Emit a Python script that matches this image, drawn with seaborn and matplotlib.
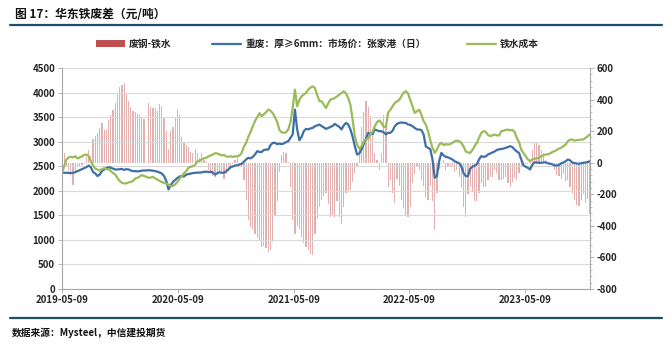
import numpy as np
import pandas as pd
import matplotlib
matplotlib.use('Agg')
import matplotlib.pyplot as plt
from matplotlib.patches import Patch
from matplotlib.lines import Line2D
from matplotlib.ticker import MultipleLocator
import seaborn as sns

sns.set_theme(style='white')
plt.rcParams['font.family'] = ['Noto Sans CJK SC', 'DejaVu Sans']
plt.rcParams['axes.unicode_minus'] = False

# Weekly observations, Thursday 2019-05-09 through 2023-11-30
start_date = '2019-05-09'
n_weeks = 239

# 重废：厚≥6mm：市场价：张家港（日）, 元/吨 (left axis)
scrap_price = [
    2366, 2366, 2366, 2366, 2360, 2366, 2380, 2400, 2420, 2440,
    2460, 2480, 2515, 2480, 2380, 2352, 2300, 2330, 2400, 2434,
    2460, 2480, 2470, 2450, 2434, 2434, 2440, 2445, 2425, 2440,
    2435, 2413, 2400, 2400, 2395, 2400, 2410, 2413, 2413, 2420,
    2413, 2410, 2400, 2390, 2370, 2352, 2300, 2200, 2027,
    2110, 2180, 2220, 2260, 2290, 2300, 2290, 2330, 2340, 2350,
    2360, 2365, 2370, 2370, 2375, 2385, 2390, 2380, 2390, 2370,
    2330, 2360, 2375, 2370, 2365, 2400, 2434, 2480, 2495, 2515,
    2520, 2535, 2550, 2590, 2640, 2671, 2660, 2690, 2740, 2806,
    2790, 2790, 2830, 2840, 2840, 2930, 2976, 2976, 2950,
    2960, 2950, 2965, 2990, 3010, 3080, 3150, 3653, 3250, 3030,
    3100, 3213, 3260, 3250, 3270, 3280, 3314, 3330, 3348, 3320,
    3290, 3260, 3280, 3300, 3320, 3362, 3330, 3300, 3250, 3330,
    3382, 3350, 3250, 3100, 2908, 2738, 2760, 2840, 2950, 3060,
    3179, 3160, 3150, 3247, 3230, 3213, 3213, 3190, 3150, 3180,
    3180, 3220, 3314, 3360, 3382, 3390, 3385, 3380, 3350, 3340,
    3314, 3280, 3250, 3247, 3235, 3150, 2900, 2874, 2850, 2637,
    2264, 2300, 2600, 2772, 2720, 2690, 2680, 2660, 2637, 2600,
    2580, 2560, 2500, 2360, 2298, 2300, 2450, 2490, 2510, 2540,
    2640, 2705, 2690, 2700, 2739, 2760, 2780, 2800, 2830, 2845,
    2850, 2860, 2874, 2890, 2908, 2890, 2840, 2800, 2772, 2637,
    2520, 2490, 2467, 2434, 2530, 2580, 2575, 2570, 2570, 2575,
    2580, 2560, 2550, 2540, 2515, 2515, 2520, 2560, 2575, 2600,
    2637, 2620, 2575, 2565, 2555, 2550, 2560, 2570, 2575, 2585, 2600,
]

# 铁水成本, 元/吨 (left axis)
hot_metal_cost = [
    2366, 2500, 2637, 2680, 2691, 2680, 2705, 2660, 2680, 2700,
    2730, 2739, 2705, 2600, 2515, 2450, 2434, 2410, 2440, 2460,
    2440, 2440, 2400, 2360, 2332, 2260, 2200, 2163, 2150, 2150,
    2170, 2180, 2200, 2250, 2264, 2290, 2320, 2300, 2285, 2264,
    2270, 2285, 2250, 2230, 2200, 2180, 2160, 2140, 2129,
    2095, 2100, 2129, 2180, 2240, 2298, 2360, 2400, 2467, 2490,
    2500, 2530, 2600, 2610, 2640, 2660, 2671, 2700, 2720, 2739,
    2765, 2760, 2740, 2720, 2730, 2700, 2690, 2705, 2690, 2700,
    2700, 2720, 2772, 2900, 2976, 3100, 3200, 3314, 3420, 3500,
    3580, 3520, 3560, 3600, 3653, 3630, 3580, 3500, 3400,
    3240, 3190, 3180, 3190, 3250, 3400, 3700, 4060, 3721, 3850,
    3924, 3960, 3992, 4060, 4100, 4127, 4093, 3950, 3830, 3822,
    3755, 3687, 3780, 3856, 3870, 3890, 3924, 3960, 3992, 4026,
    3980, 3890, 3750, 3450, 3111, 2942, 2860, 2908, 3000, 3043,
    3060, 3150, 3200, 3314, 3400, 3430, 3382, 3300, 3300, 3590,
    3650, 3720, 3789, 3820, 3850, 3924, 4000, 4026, 3980, 3850,
    3720, 3585, 3620, 3653, 3550, 3420, 3348, 3213, 3030, 2874,
    2772, 2840, 2940, 2976, 2930, 2950, 2940, 2950, 2976, 3010,
    3020, 3010, 2976, 2900, 2800, 2780, 2772, 2830, 2908, 2980,
    3080, 3179, 3213, 3200, 3140, 3111, 3130, 3145, 3130, 3125,
    3213, 3225, 3235, 3247, 3230, 3240, 3200, 3077, 2990, 2840,
    2770, 2705, 2637, 2610, 2640, 2650, 2660, 2670, 2705, 2720,
    2740, 2739, 2760, 2790, 2806, 2830, 2860, 2874, 2908, 2940,
    3010, 3040, 3043, 3020, 3030, 3035, 3043, 3043, 3077, 3111, 3150,
]

# 废钢-铁水, 元/吨 (right axis)
spread = [
    230, 60, -30, -47, -80, -142, -60, -25, -20, -15,
    -10, 38, 80, 40, 150, 170, 190, 220, 250, 205,
    210, 271, 300, 335, 380, 440, 480, 490, 505, 440,
    390, 350, 330, 320, 310, 300, 285, 280, 0, 377,
    355, 345, 345, 330, 375, 360, 290, 200, 90,
    200, 229, 290, 340, 300, 160, 130, 110, 100, 70,
    60, 90, 60, 30, 60, 20, 5, -47, -70, -85,
    -89, -78, -60, -55, -100, -70, -55, -20, -10, 17,
    28, -5, -25, -110, -237, -365, -407, -420, -450, -475,
    -490, -534, -525, -540, -566, -555, -500, -330, -240,
    -60, 50, 70, 60, 5, -152, -365, -450, -400, -420,
    -470, -510, -534, -555, -576, -587, -450, -350, -280, -237,
    -210, -195, -260, -343, -330, -343, -240, -343, -386, -280,
    -195, -185, -174, -120, -68, -20, 100, 229, 320, 390,
    356, 293, 170, 59, 15, -47, 59, 300, 229, -152,
    -110, -195, -258, -100, -150, -237, -290, -333, -343, -280,
    -130, -70, -30, -45, -110, -150, -216, -237, -150, -240,
    -428, -195, -40, -5, 17, -47, -20, -25, -25, -60,
    -47, -89, -160, -280, -343, -200, -152, -180, -240, -245,
    -195, -130, -152, -152, -110, -89, -89, -47, -68, -110,
    -110, -100, -90, -131, -152, -120, -95, -110, -68, -25,
    -12, -10, -8, 10, 80, 123, 134, 110, 80, 59,
    17, 5, -5, -15, -47, -78, -85, -100, -70, -115,
    -110, -152, -195, -237, -269, -275, -237, -200, -258, -230, -322,
]

xtick_labels = ['2019-05-09', '2020-05-09', '2021-05-09', '2022-05-09', '2023-05-09']

dates = pd.date_range(start_date, periods=n_weeks, freq='7D')
df = pd.DataFrame({'date': dates, 'scrap': scrap_price,
                   'hot_metal': hot_metal_cost, 'spread': spread})

C_BAR = '#C0504D'
C_BLUE = '#3E6FA6'
C_GREEN = '#9BBB59'
C_GRID = '#D9D9D9'
C_AXIS = '#A6A6A6'
C_TEXT = '#262626'

fig = plt.figure(figsize=(6.72, 3.49), dpi=100)
fig.patch.set_facecolor('white')

ax = fig.add_axes([62 / 672, 1 - 289 / 349, (590 - 62) / 672, (289 - 68) / 349])
ax2 = ax.twinx()
ax.set_zorder(ax2.get_zorder() + 1)
ax.patch.set_visible(False)

# spread bars on the secondary axis
ax2.bar(df['date'], df['spread'], width=3.8, color=C_BAR, alpha=0.45,
        linewidth=0, align='center')
ax2.set_ylim(-800, 600)
ax2.yaxis.set_major_locator(MultipleLocator(200))
ax2.yaxis.set_minor_locator(MultipleLocator(40))

# price lines on the primary axis
sns.lineplot(data=df, x='date', y='scrap', ax=ax, color=C_BLUE, linewidth=1.6)
sns.lineplot(data=df, x='date', y='hot_metal', ax=ax, color=C_GREEN, linewidth=1.6)
ax.set_ylim(0, 4500)
ax.yaxis.set_major_locator(MultipleLocator(500))
ax.set_xlim(dates[0], dates[-1])
ax.set_xlabel('')
ax.set_ylabel('')
ax2.set_ylabel('')

tick_dates = pd.to_datetime(xtick_labels)
ax.set_xticks(tick_dates)
ax.set_xticklabels(xtick_labels)

ax.grid(axis='y', color=C_GRID, linewidth=0.8)
ax.grid(axis='x', visible=False)
ax2.grid(False)

for a in (ax, ax2):
    a.spines['top'].set_visible(False)
    for side in ('left', 'right', 'bottom'):
        a.spines[side].set_color(C_AXIS)
        a.spines[side].set_linewidth(0.8)
ax.spines['right'].set_visible(False)
ax2.spines['left'].set_visible(False)
ax2.spines['bottom'].set_visible(False)

ax.tick_params(axis='y', which='major', left=True, length=3, width=0.6, color=C_AXIS,
               labelsize=7, labelcolor=C_TEXT, pad=2)
ax.tick_params(axis='x', which='major', bottom=True, length=3, width=0.6, color=C_AXIS,
               labelsize=7, labelcolor=C_TEXT, pad=1.5)
ax2.tick_params(axis='y', which='major', right=True, length=3, width=0.6, color=C_AXIS,
                labelsize=7, labelcolor=C_TEXT, pad=2)
ax2.tick_params(axis='y', which='minor', right=True, length=1.5, width=0.5, color=C_AXIS)
for lab in ax.get_yticklabels() + ax.get_xticklabels() + ax2.get_yticklabels():
    lab.set_fontweight('bold')

# legend
handles = [
    Patch(facecolor=C_BAR, edgecolor='none'),
    Line2D([0], [0], color=C_BLUE, linewidth=1.6),
    Line2D([0], [0], color=C_GREEN, linewidth=1.6),
]
labels = ['废钢-铁水', '重废：厚≥6mm：市场价：张家港（日）', '铁水成本']
leg = fig.legend(handles, labels, loc='center', bbox_to_anchor=(0.472, 1 - 44 / 349),
                 ncol=3, frameon=False, fontsize=7, handlelength=3.0,
                 handleheight=0.6, columnspacing=4.2, handletextpad=0.4)
for t in leg.get_texts():
    t.set_color(C_TEXT)
    t.set_fontweight('bold')

# title, rules and source note
fig.text(15 / 672, 1 - 14 / 349, '图 17：华东铁废差（元/吨）', fontsize=8.5,
         fontweight='bold', color='#111111', va='center', ha='left')
fig.add_artist(Line2D([10 / 672, 662 / 672], [1 - 25 / 349, 1 - 25 / 349],
                      color='#1D4E6E', linewidth=1.6, transform=fig.transFigure))
fig.add_artist(Line2D([10 / 672, 662 / 672], [1 - 318 / 349, 1 - 318 / 349],
                      color='#1F5060', linewidth=1.6, transform=fig.transFigure))
fig.text(12 / 672, 1 - 333 / 349, '数据来源：Mysteel，中信建投期货', fontsize=7,
         fontweight='bold', fontstyle='italic', color='#111111', va='center', ha='left')

fig.savefig('out.png', dpi=100, facecolor='white')
